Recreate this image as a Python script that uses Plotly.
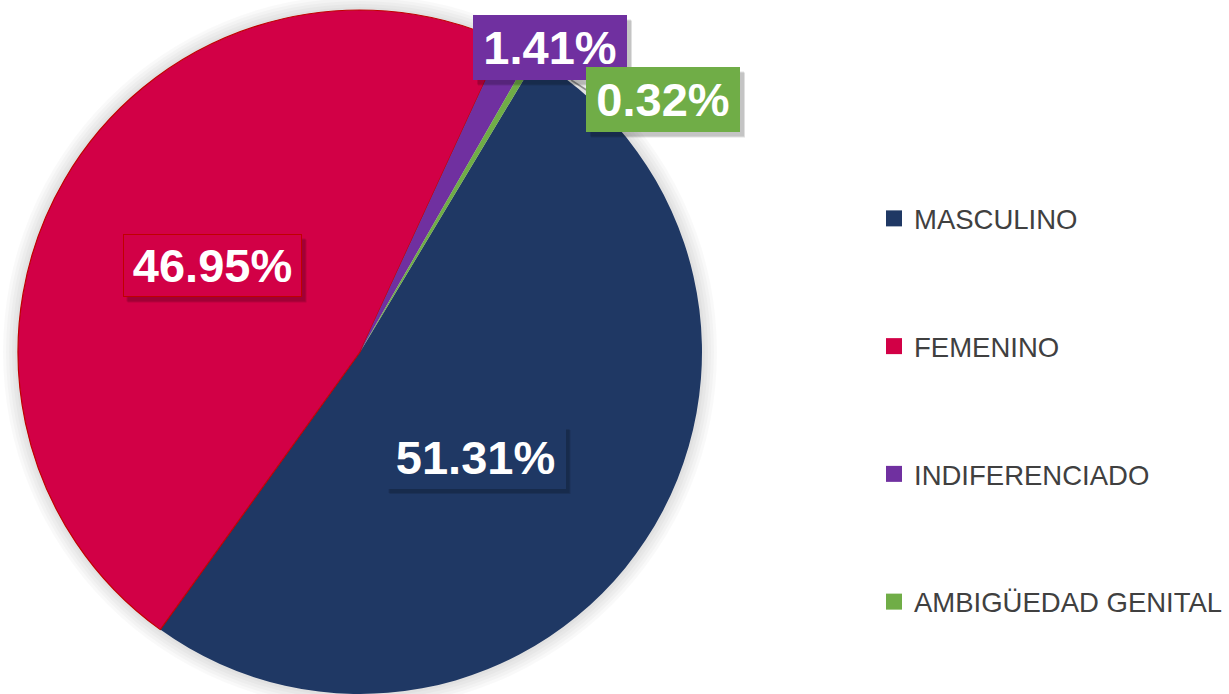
import plotly.graph_objects as go

categories = ["MASCULINO", "FEMENINO", "INDIFERENCIADO", "AMBIGÜEDAD GENITAL"]
values = [51.31, 46.95, 1.41, 0.32]
colors = ["#1F3864", "#D20046", "#7030A0", "#70AD47"]
border_colors = ["#1F3864", "#C00000", "#7030A0", "#70AD47"]
line_colors = ["rgba(0,0,0,0)", "#C00000", "rgba(0,0,0,0)", "rgba(0,0,0,0)"]

W, H = 1229, 694
cx, cy, R = 360, 352, 342

fig = go.Figure()
fig.add_trace(go.Pie(
    labels=categories, values=values, sort=False, direction="clockwise",
    rotation=31, textinfo="none", hoverinfo="label+percent",
    marker=dict(colors=colors, line=dict(color=line_colors, width=1.2)),
    domain=dict(x=[(cx - R) / W, (cx + R) / W], y=[(H - cy - R) / H, (H - cy + R) / H]),
    showlegend=False,
))

# legend entries
for i, (c, col) in enumerate(zip(categories, colors)):
    fig.add_trace(go.Scatter(
        x=[None], y=[None], mode="markers", name=c, legendgroup=f"g{i}",
        marker=dict(symbol="square", size=16, color=col),
        hoverinfo="skip",
    ))

# soft shadow around pie
shapes = []
for k in range(5):
    r = R + 3 + 3 * k
    shapes.append(dict(
        type="circle", xref="paper", yref="paper", layer="below",
        x0=(cx - r) / W, x1=(cx + r) / W, y0=(H - cy - r) / H, y1=(H - cy + r) / H,
        fillcolor="rgba(0,0,0,0.022)", line=dict(width=0),
    ))
# leader line for small label
shapes.append(dict(type="line", xref="paper", yref="paper",
                   x0=571 / W, y0=(H - 80) / H, x1=588 / W, y1=(H - 91) / H,
                   line=dict(color="#8C8C8C", width=1.5)))

label_pos = [(475, 457), (212, 266), (550, 48), (663, 100)]
label_size = [(181, 64), (179, 63), (154, 65), (154, 65)]
annotations = []
for i, v in enumerate(values):
    px, py = label_pos[i]
    bw, bh = label_size[i]
    # drop shadow behind the label box
    for off, a in ((5, 0.12), (4, 0.12)):
        shapes.append(dict(type="rect", xref="paper", yref="paper", layer="above",
                           x0=(px - bw / 2 + off) / W, x1=(px + bw / 2 + off) / W,
                           y0=(H - py - bh / 2 - off) / H, y1=(H - py + bh / 2 - off) / H,
                           fillcolor=f"rgba(0,0,0,{a})", line=dict(width=0)))
    annotations.append(dict(
        text=f"<b>{v:.2f}%</b>", xref="paper", yref="paper", x=px / W, y=(H - py) / H,
        xanchor="center", yanchor="middle", showarrow=False,
        width=bw - 2, height=bh - 2, borderpad=0, borderwidth=1,
        font=dict(size=47, color="white", family="Liberation Sans, Arial"),
        bgcolor=colors[i], bordercolor=border_colors[i]))

fig.update_layout(
    width=W, height=H,
    margin=dict(l=0, r=0, t=0, b=0),
    paper_bgcolor="white", plot_bgcolor="white",
    xaxis=dict(visible=False), yaxis=dict(visible=False),
    shapes=shapes, annotations=annotations,
    legend=dict(x=874 / W, y=(H - 194) / H, xanchor="left", yanchor="top",
                traceorder="grouped", tracegroupgap=89, itemwidth=30,
                font=dict(size=27.5, color="#404040", family="Liberation Sans, Arial"),
                bgcolor="rgba(0,0,0,0)"),
    showlegend=True,
)

fig.write_html("out.html", config={"displayModeBar": False},
               post_script="document.body.style.margin='0';")
